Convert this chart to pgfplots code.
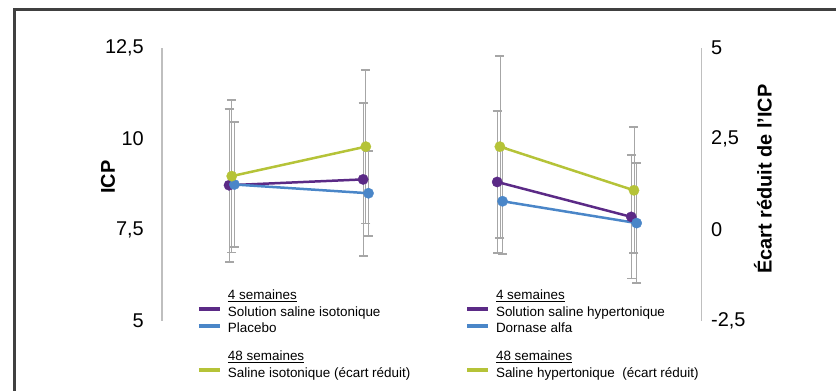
\documentclass[border=0pt]{standalone}
\usepackage{pgfplots}
\pgfplotsset{compat=1.18}
\usepackage{fontspec}
\setmainfont{Liberation Sans}
\definecolor{purp}{HTML}{5B2A86}
\definecolor{blu}{HTML}{4A86C8}
\definecolor{grn}{HTML}{B5C338}
\definecolor{errg}{HTML}{A6A6A6}
\definecolor{errl}{HTML}{D6D6D6}
\definecolor{axg}{HTML}{BFBFBF}
\definecolor{frameg}{HTML}{404040}

\pgfplotsset{
  base/.style={
    at={(162bp,70bp)}, anchor=south west,
    width=539bp, height=273bp, scale only axis,
    xmin=0.48, xmax=4.5,
    axis x line=none,
    /pgf/number format/assume math mode=true,
    /pgf/number format/use comma,
    major tick length=0pt,
    tick label style={font=\fontsize{20}{24}\selectfont},
    clip=false,
    legend style={draw=none, fill=none, inner sep=0pt, outer sep=0pt,
      row sep=1.5bp, column sep=5bp,
      nodes={font=\fontsize{13.5}{15}\selectfont, inner sep=1bp, text height=10bp, text depth=3bp}},
    legend cell align=left,
  },
  ebar/.style={only marks, mark=none, draw=errg, forget plot,
    error bars/.cd, y dir=both, y explicit,
    error bar style={line width=0.7bp, draw=errg, double=errl, double distance=1.3bp},
    error mark=-,
    error mark options={rotate=90, line width=1.8bp, mark size=4.5bp, draw=errg, double=none}},
  ser/.style={line width=2.5bp, mark=*, mark size=5.2bp, mark options={line width=0.3bp}, forget plot},
}

\begin{document}
\begin{tikzpicture}
\useasboundingbox (0,0) rectangle (836bp,391bp);
\draw[frameg, line width=3.5bp] (14.5bp,-20bp) -- (14.5bp,381.5bp) -- (870bp,381.5bp);

% Right axis (écart réduit): green error bars, column-2 legend
\begin{axis}[base,
  ymin=-2.5, ymax=5,
  axis y line*=right,
  axis line style={axg, line width=1bp},
  ytick={-2.5,0,2.5,5},
  yticklabel style={anchor=west, inner sep=0pt},
  yticklabel shift=10bp,
  ylabel={Écart réduit de l'ICP},
  every axis y label/.style={at={(axis description cs:1.115,0.52)}, anchor=center, rotate=90,
    font=\bfseries\fontsize{20}{24}\selectfont},
  legend style={at={(axis description cs:0.5622,0.119)}, anchor=north west},
]
\addplot[ebar] coordinates {(1.00,1.48) +- (0,2.10) (2.00,2.29) +- (0,2.11)};
\addplot[ebar] coordinates {(3.00,2.29) +- (0,2.50) (4.00,1.09) +- (0,1.73)};

\addlegendimage{empty legend}\addlegendentry{\underline{4 semaines}}
\addlegendimage{legend image code/.code={\draw[purp,line width=4bp] (0bp,3.5bp) -- (21bp,3.5bp);}}
\addlegendentry{Solution saline hypertonique}
\addlegendimage{legend image code/.code={\draw[blu,line width=4bp] (0bp,3.5bp) -- (21bp,3.5bp);}}
\addlegendentry{Dornase alfa}
\addlegendimage{empty legend}\addlegendentry[text height=8bp,text depth=0bp]{}
\addlegendimage{empty legend}\addlegendentry{\underline{48 semaines}}
\addlegendimage{legend image code/.code={\draw[grn,line width=4bp] (0bp,3.5bp) -- (21bp,3.5bp);}}
\addlegendentry{Saline hypertonique\ \ (écart réduit)}
\end{axis}

% Left axis (ICP): purple and blue
\begin{axis}[base,
  ymin=5, ymax=12.5,
  axis y line*=left,
  axis line style={axg, line width=1.5bp},
  ytick={5,7.5,10,12.5},
  yticklabel style={anchor=east, inner sep=0pt},
  yticklabel shift=18bp,
  ylabel={ICP},
  every axis y label/.style={at={(axis description cs:-0.1,0.527)}, anchor=center, rotate=90,
    font=\bfseries\fontsize{20}{24}\selectfont},
  legend style={at={(axis description cs:0.0649,0.119)}, anchor=north west},
]
\addplot[ebar] coordinates {(0.98,8.73) +- (0,2.10) (1.98,8.89) +- (0,2.10)};
\addplot[ebar] coordinates {(2.98,8.82) +- (0,1.95) (3.98,7.86) +- (0,1.69)};
\addplot[ebar] coordinates {(1.02,8.75) +- (0,1.71) (2.02,8.51) +- (0,1.17)};
\addplot[ebar] coordinates {(3.02,8.29) +- (0,1.46) (4.02,7.69) +- (0,1.65)};

\addplot[ser, purp] coordinates {(0.98,8.73) (1.98,8.89)};
\addplot[ser, purp] coordinates {(2.98,8.82) (3.98,7.86)};
\addplot[ser, blu] coordinates {(1.02,8.75) (2.02,8.51)};
\addplot[ser, blu] coordinates {(3.02,8.29) (4.02,7.69)};

\addlegendimage{empty legend}\addlegendentry{\underline{4 semaines}}
\addlegendimage{legend image code/.code={\draw[purp,line width=4bp] (0bp,3.5bp) -- (21bp,3.5bp);}}
\addlegendentry{Solution saline isotonique}
\addlegendimage{legend image code/.code={\draw[blu,line width=4bp] (0bp,3.5bp) -- (21bp,3.5bp);}}
\addlegendentry{Placebo}
\addlegendimage{empty legend}\addlegendentry[text height=8bp,text depth=0bp]{}
\addlegendimage{empty legend}\addlegendentry{\underline{48 semaines}}
\addlegendimage{legend image code/.code={\draw[grn,line width=4bp] (0bp,3.5bp) -- (21bp,3.5bp);}}
\addlegendentry{Saline isotonique (écart réduit)}
\end{axis}

% Green series on the right scale
\begin{axis}[base,
  ymin=-2.5, ymax=5,
  hide axis,
]
\addplot[ser, grn] coordinates {(1.00,1.48) (2.00,2.29)};
\addplot[ser, grn] coordinates {(3.00,2.29) (4.00,1.09)};
\end{axis}
\end{tikzpicture}
\end{document}
